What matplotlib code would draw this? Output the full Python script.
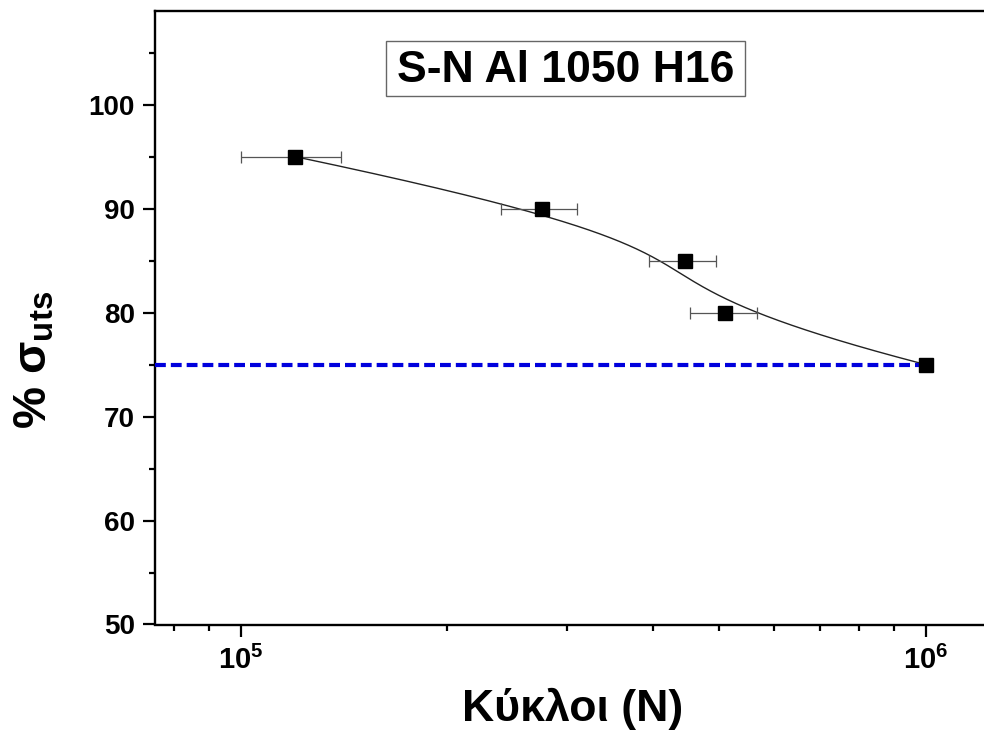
import numpy as np
import matplotlib
matplotlib.use("Agg")
import matplotlib.pyplot as plt
from matplotlib.ticker import LogLocator, MultipleLocator, FuncFormatter, NullFormatter
from matplotlib.patches import Rectangle

# S-N data: cycles to failure vs. percentage of ultimate tensile strength
cycles = [1.2e5, 2.75e5, 4.45e5, 5.1e5, 1.0e6]
stress_pct = [95, 90, 85, 80, 75]
cycles_err = [2.0e4, 3.5e4, 5.0e4, 5.75e4, 0.0]
endurance_pct = 75

title = "S-N Al 1050 H16"
xlabel = "Κύκλοι (N)"
ylabel = r"% σ$_\mathregular{uts}$"

plt.rcParams['font.family'] = ['Liberation Sans', 'DejaVu Sans']
plt.rcParams['mathtext.default'] = 'regular'


def bspline(ctrl, n=400, k=3):
    """Clamped uniform B-spline through the given control points."""
    ctrl = np.asarray(ctrl, float)
    m = len(ctrl)
    knots = np.concatenate([np.zeros(k), np.linspace(0, 1, m - k + 1), np.ones(k)])
    t = np.linspace(0, 1, n)
    N = np.zeros((n, len(knots) - 1))
    for i in range(len(knots) - 1):
        N[:, i] = (t >= knots[i]) & (t < knots[i + 1])
    N[-1, m - 1] = 1.0
    for p in range(1, k + 1):
        Nn = np.zeros((n, len(knots) - 1 - p))
        for i in range(len(knots) - 1 - p):
            d1 = knots[i + p] - knots[i]
            d2 = knots[i + p + 1] - knots[i + 1]
            a = (t - knots[i]) / d1 * N[:, i] if d1 > 0 else 0
            b = (knots[i + p + 1] - t) / d2 * N[:, i + 1] if d2 > 0 else 0
            Nn[:, i] = a + b
        N = Nn
    return N @ ctrl


fig = plt.figure(figsize=(9.84, 7.33), dpi=100)
ax = fig.add_axes([155 / 984, (733 - 624.5) / 733, 837 / 984, 613.5 / 733])
ax.set_xscale('log')
ax.set_xlim(7.5e4, 1.25e6)
ax.set_ylim(50, 109)

# smooth connecting curve (B-spline in log-x space)
ctrl = np.column_stack([np.log10(cycles), stress_pct])
curve = bspline(ctrl)
ax.plot(10 ** curve[:, 0], curve[:, 1], color='#222222', lw=1.0, zorder=2)

# horizontal error bars on cycles
ax.errorbar(cycles, stress_pct, xerr=cycles_err, fmt='none', ecolor='#555555',
            elinewidth=0.9, capsize=4.3, capthick=0.9, zorder=3)

# endurance level
ax.plot([ax.get_xlim()[0], cycles[-1]], [endurance_pct, endurance_pct],
        color='#0000dd', lw=3.0, ls=(0, (2.6, 1.2)), zorder=3)

ax.plot(cycles, stress_pct, 's', color='black', ms=10, mec='black', zorder=5,
        clip_on=False)

# axes styling
ax.yaxis.set_major_locator(MultipleLocator(10))
ax.yaxis.set_minor_locator(MultipleLocator(5))
ax.xaxis.set_major_locator(LogLocator(base=10))
ax.xaxis.set_minor_locator(LogLocator(base=10, subs=np.arange(2, 10)))
ax.xaxis.set_major_formatter(FuncFormatter(
    lambda v, pos: r"$\mathregular{10^{%d}}$" % round(np.log10(v))))
ax.xaxis.set_minor_formatter(NullFormatter())
ax.tick_params(which='both', direction='out', width=1.6, top=False, right=False)
ax.tick_params(which='major', length=8.5, pad=6)
ax.tick_params(axis='y', which='major', labelsize=20)
ax.tick_params(axis='x', which='major', labelsize=21, pad=7)
ax.tick_params(which='minor', length=4.5)
for lbl in ax.get_xticklabels() + ax.get_yticklabels():
    lbl.set_fontweight('bold')
for s in ax.spines.values():
    s.set_linewidth(1.7)

# boxed title
ax.add_patch(Rectangle((0.276, 0.8615), 0.429, 0.0895, transform=ax.transAxes,
                       facecolor='white', edgecolor='#666666', lw=1.0, zorder=6))
ax.text(0.4905, 0.8845, title, transform=ax.transAxes, ha='center',
        va='baseline', fontsize=32, fontweight='bold', zorder=7)

fig.text(35 / 984, 0.509, ylabel, rotation=90, ha='center', va='center',
         fontsize=34, fontweight='bold')
fig.text(573 / 984, 0.016, xlabel, ha='center', va='baseline',
         fontsize=32, fontweight='bold')

fig.savefig('out.png', dpi=100)
